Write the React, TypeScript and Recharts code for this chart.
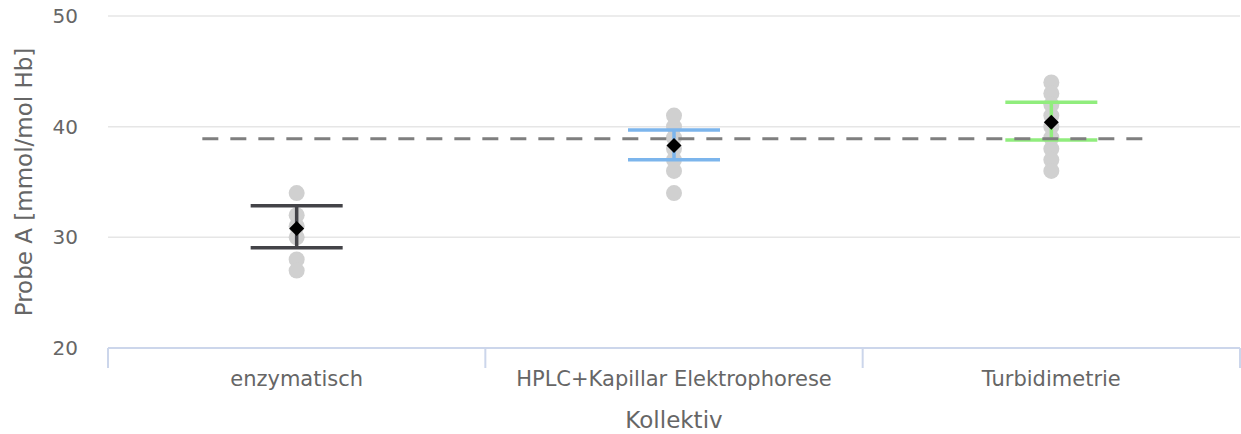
import React from "react";
import {
  ComposedChart,
  Scatter,
  XAxis,
  YAxis,
  CartesianGrid,
  ReferenceLine,
  ErrorBar,
} from "recharts";

const FONT = "DejaVu Sans";
const TEXT = "#666666";
const AXIS = "#ccd6eb";

const categories = ["enzymatisch", "HPLC+Kapillar Elektrophorese", "Turbidimetrie"];
const colors = ["#434348", "#7cb5ec", "#90ed7d"];

// single lab results per method
const enzymatischValues = [34, 32, 31, 30, 28, 27];
const hplcValues = [41, 40, 39, 38, 37, 36, 34];
const turbidimetrieValues = [44, 43, 42, 41, 40, 39, 38, 37, 36];

// mean with lower / upper bound per method
const means = [30.8, 38.3, 40.4];
const lowerBounds = [29.05, 37.0, 38.8];
const upperBounds = [32.85, 39.7, 42.2];

const targetValue = 38.9;
const yTicks = [20, 30, 40, 50];
const xTicks = [-0.5, 0, 0.5, 1, 1.5, 2, 2.5];

const pointData = [enzymatischValues, hplcValues, turbidimetrieValues].flatMap((vals, i) =>
  vals.map((v) => ({ x: i, y: v }))
);

const meanData = means.map((m, i) => ({
  x: i,
  y: m,
  err: [m - lowerBounds[i], upperBounds[i] - m],
}));

function GreyDot(props: any) {
  const { cx, cy } = props;
  return <circle cx={cx} cy={cy} r={8} fill="#d0d0d0" />;
}

function Diamond(props: any) {
  const { cx, cy } = props;
  const w = 7.5;
  const h = 7.5;
  return (
    <polygon
      points={`${cx},${cy - h} ${cx + w},${cy} ${cx},${cy + h} ${cx - w},${cy}`}
      fill="#000000"
    />
  );
}

function CategoryTick(props: any) {
  const { x, y, payload } = props;
  const v = payload.value;
  if (Number.isInteger(v)) {
    return (
      <text x={x} y={y + 38} textAnchor="middle" fill={TEXT} fontSize={21} fontFamily={FONT}>
        {categories[v]}
      </text>
    );
  }
  return <line x1={x} y1={y} x2={x} y2={y + 20} stroke={AXIS} strokeWidth={2} />;
}

export default function App() {
  return (
    <div style={{ position: "absolute", left: 0, top: 0, background: "#fff" }}>
      <ComposedChart
        width={1241}
        height={434}
        margin={{ top: 16, right: 1, bottom: 0, left: 0 }}
      >
        <CartesianGrid vertical={false} stroke="#e6e6e6" strokeWidth={1.5} />
        <XAxis
          type="number"
          dataKey="x"
          domain={[-0.5, 2.5]}
          ticks={xTicks}
          interval={0}
          height={86}
          tickSize={0}
          tickMargin={0}
          tickLine={false}
          axisLine={{ stroke: AXIS, strokeWidth: 2 }}
          tick={<CategoryTick />}
          label={(p: any) => {
            const vb = p.viewBox;
            return (
              <text
                x={vb.x + vb.width / 2}
                y={vb.y + 80}
                textAnchor="middle"
                fill={TEXT}
                fontSize={23}
                fontFamily={FONT}
              >
                Kollektiv
              </text>
            );
          }}
        />
        <YAxis
          type="number"
          dataKey="y"
          domain={[20, 50]}
          ticks={yTicks}
          width={108}
          axisLine={false}
          tickLine={false}
          tickMargin={24}
          tick={{ fill: TEXT, fontSize: 20, fontFamily: FONT }}
          label={(p: any) => {
            const vb = p.viewBox;
            const cy = vb.y + vb.height / 2;
            return (
              <text
                x={32}
                y={cy}
                transform={`rotate(-90, 32, ${cy})`}
                textAnchor="middle"
                fill={TEXT}
                fontSize={23}
                fontFamily={FONT}
              >
                Probe A [mmol/mol Hb]
              </text>
            );
          }}
        />
        {/* grey single values sit underneath the error bars */}
        <Scatter
          data={pointData}
          dataKey="y"
          shape={<GreyDot />}
          isAnimationActive={false}
          {...({ zIndex: 0 } as any)}
        />
        {meanData.map((d, i) => (
          <Scatter
            key={categories[i]}
            data={[d]}
            dataKey="y"
            shape={<Diamond />}
            isAnimationActive={false}
          >
            <ErrorBar
              dataKey="err"
              direction="y"
              width={46}
              stroke={colors[i]}
              strokeWidth={3.5}
              isAnimationActive={false}
            />
          </Scatter>
        ))}
        <ReferenceLine
          segment={[
            { x: -0.25, y: targetValue },
            { x: 2.25, y: targetValue },
          ]}
          stroke="#7f7f7f"
          strokeWidth={3}
          strokeDasharray="16 12"
        />
      </ComposedChart>
    </div>
  );
}
